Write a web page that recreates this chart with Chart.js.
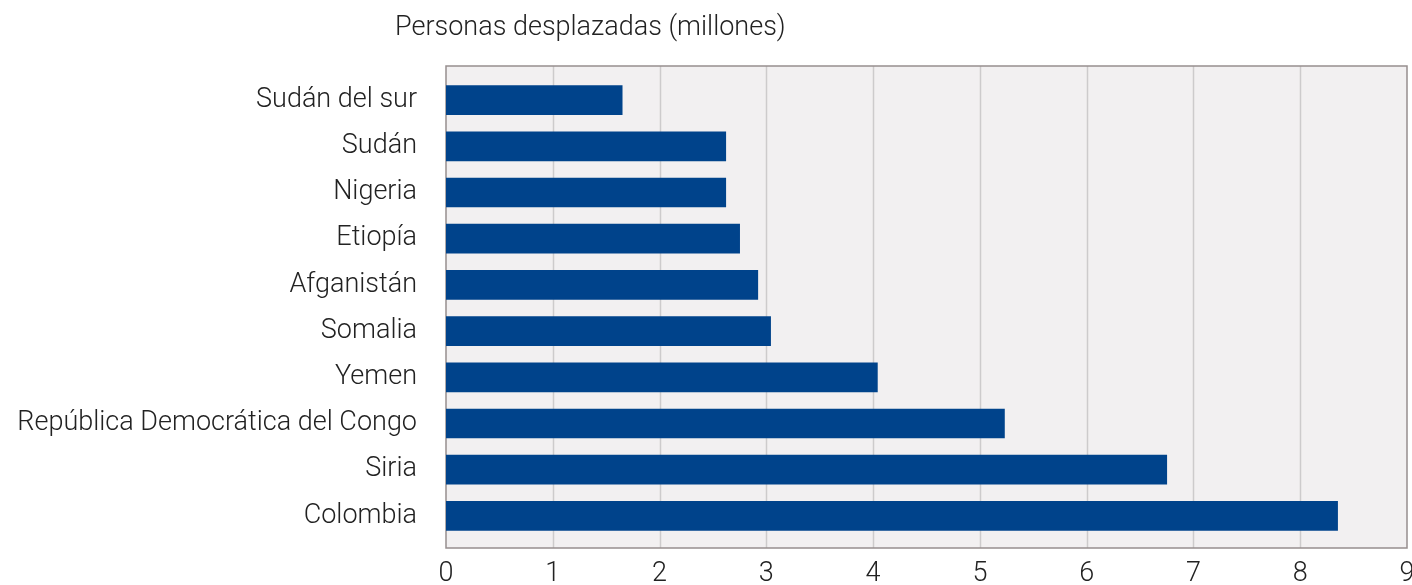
<!DOCTYPE html>
<html>
<head>
<meta charset="utf-8">
<script src="https://cdn.jsdelivr.net/npm/chart.js@4/dist/chart.umd.min.js"></script>
<style>
  html, body { margin: 0; padding: 0; background: #fff; }
  #wrap { width: 1412px; height: 585px; }
</style>
</head>
<body>
<div id="wrap"><canvas id="chart"></canvas></div>
<script>
// datos
const paises = ['Sudán del sur', 'Sudán', 'Nigeria', 'Etiopía', 'Afganistán', 'Somalia', 'Yemen',
  'República Democrática del Congo', 'Siria', 'Colombia'];
const desplazados = [1.65, 2.62, 2.62, 2.75, 2.92, 3.04, 4.04, 5.23, 6.75, 8.35];
const xTicks = [0, 1, 2, 3, 4, 5, 6, 7, 8, 9];
const titulo = 'Personas desplazadas (millones)';

const fuente = { family: 'Roboto', size: 27, weight: 300 };

// fondo, rejilla y borde del area del grafico
const marco = {
  id: 'marco',
  beforeDatasetsDraw(chart) {
    const { ctx, chartArea } = chart;
    const x = chart.scales.x;
    const top = chartArea.top - 11, bottom = chartArea.bottom + 9;
    ctx.save();
    ctx.fillStyle = '#f2f0f1';
    ctx.fillRect(chartArea.left, top, chartArea.right - chartArea.left, bottom - top);
    ctx.strokeStyle = '#cdcbcc';
    ctx.lineWidth = 1.5;
    x.ticks.forEach(t => {
      if (t.value === x.min || t.value === x.max) return;
      const px = Math.round(x.getPixelForValue(t.value)) + 0.5;
      ctx.beginPath();
      ctx.moveTo(px, top);
      ctx.lineTo(px, bottom);
      ctx.stroke();
    });
    ctx.strokeStyle = '#968e8e';
    ctx.lineWidth = 1.5;
    ctx.strokeRect(chartArea.left, top, chartArea.right - chartArea.left, bottom - top);
    ctx.restore();
  },
  afterDraw(chart) {
    const { ctx, chartArea } = chart;
    ctx.save();
    ctx.font = '300 27px Roboto';
    ctx.fillStyle = '#222';
    ctx.textBaseline = 'middle';
    ctx.textAlign = 'left';
    ctx.fillText(titulo, chartArea.left - 51, 28);
    ctx.restore();
  }
};

const ctx = document.getElementById('chart').getContext('2d');
const grafico = new Chart(ctx, {
  type: 'bar',
  data: {
    labels: paises,
    datasets: [{
      label: titulo,
      data: desplazados,
      backgroundColor: '#00438b',
      borderWidth: 0,
      barThickness: 29
    }]
  },
  options: {
    indexAxis: 'y',
    responsive: true,
    maintainAspectRatio: false,
    animation: false,
    layout: { padding: { left: 0, right: 5, top: 77, bottom: 0 } },
    plugins: {
      legend: { display: false },
      tooltip: { enabled: false }
    },
    scales: {
      x: {
        min: 0,
        max: 9,
        afterBuildTicks: s => { s.ticks = xTicks.map(v => ({ value: v })); },
        afterFit: s => { s.height = 46; s.paddingLeft = 0; s.paddingRight = 0; },
        grid: { display: false, drawTicks: false },
        border: { display: false },
        ticks: { font: fuente, color: '#222', padding: 19, maxRotation: 0 }
      },
      y: {
        afterFit: s => { s.width = 446; s.paddingTop = 0; s.paddingBottom = 0; },
        grid: { display: false, drawTicks: false },
        border: { display: false },
        ticks: { font: fuente, color: '#222', padding: 29 }
      }
    }
  },
  plugins: [marco]
});
</script>
</body>
</html>
